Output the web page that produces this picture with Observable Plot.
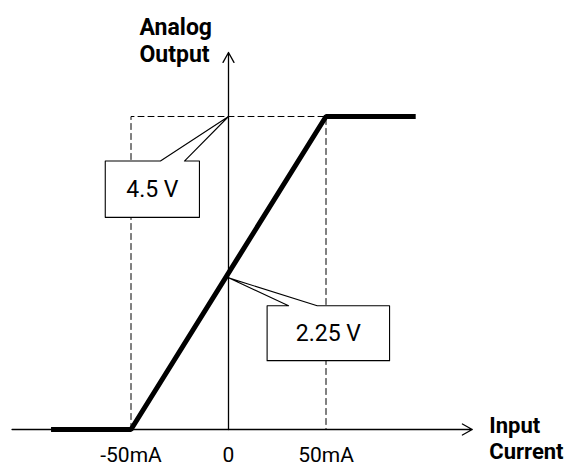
<!DOCTYPE html>
<html>
<head>
<meta charset="utf-8">
<script src="https://cdn.jsdelivr.net/npm/d3@7"></script>
<script src="https://cdn.jsdelivr.net/npm/@observablehq/plot@0.6"></script>
<style>
  html, body { margin: 0; padding: 0; background: #fff; }
  #chart { width: 565px; height: 468px; }
</style>
</head>
<body>
<div id="chart"></div>
<script>
// ---- data (input current in mA, analog output in V) ----
const currentKnots = [-91, -50, 50, 96];        // transfer curve x
const outputKnots  = [0, 0, 4.5, 4.5];          // transfer curve y
const tickValues   = [-50, 0, 50];
const tickLabels   = ["-50mA", "0", "50mA"];
const xAxisExtent  = [-111, 125];               // x-axis arrow from/to (mA)
const yAxisExtent  = [0, 5.42];                 // y-axis arrow from/to (V)
const guideX       = [-50, -50, 50, 50];        // dashed guide
const guideY       = [0, 4.5, 4.5, 0];
const calloutLabels = ["4.5 V", "2.25 V"];
const calloutTips   = [[0, 4.5], [0, 2.18]];
const calloutBoxX   = [[-63.2, -14.9], [19.8, 82.6]];
const calloutBoxY   = [[3.05, 3.86], [0.99, 1.78]];
const calloutBaseX  = [[-34.9, -22.6], [30.8, 45.5]];
const xTitle = "Input\nCurrent";
const yTitle = "Analog\nOutput";

// ---- derived tables ----
const curve = currentKnots.map((x, i) => ({x, y: outputKnots[i]}));
const guide = guideX.map((x, i) => ({x, y: guideY[i]}));
const ticks = tickValues.map((x, i) => ({x, label: tickLabels[i]}));
const callouts = [];
calloutLabels.forEach((label, i) => {
  const [x0, x1] = calloutBoxX[i], [y0, y1] = calloutBoxY[i];
  const [b0, b1] = calloutBaseX[i], [tx, ty] = calloutTips[i];
  [[x0, y1], [b0, y1], [tx, ty], [b1, y1], [x1, y1], [x1, y0], [x0, y0], [x0, y1]]
    .forEach(([x, y]) => callouts.push({id: label, x, y}));
});
const calloutText = calloutLabels.map((label, i) => ({
  label,
  x: (calloutBoxX[i][0] + calloutBoxX[i][1]) / 2,
  y: (calloutBoxY[i][0] + calloutBoxY[i][1]) / 2
}));
const axes = [
  {x1: xAxisExtent[0], y1: 0, x2: xAxisExtent[1], y2: 0},
  {x1: 0, y1: yAxisExtent[0], x2: 0, y2: yAxisExtent[1]}
];

const chart = Plot.plot({
  width: 565,
  height: 468,
  margin: 0,
  style: {fontFamily: "Roboto, sans-serif", background: "#fff", color: "#000"},
  x: {domain: [-50, 50], range: [130.5, 325.5], axis: null},
  y: {domain: [0, 4.5], range: [429, 116], axis: null},
  marks: [
    Plot.line(guide, {x: "x", y: "y", stroke: "#000", strokeWidth: 1, strokeDasharray: "6,4"}),
    Plot.line(callouts, {x: "x", y: "y", z: "id", fill: "#fff", stroke: "#000", strokeWidth: 1.1, curve: "linear-closed"}),
    Plot.arrow(axes, {x1: "x1", y1: "y1", x2: "x2", y2: "y2", stroke: "#000", strokeWidth: 1.3, headLength: 13, headAngle: 58, bend: 0}),
    Plot.line(curve, {x: "x", y: "y", stroke: "#000", strokeWidth: 5, strokeLinejoin: "miter", strokeLinecap: "butt"}),
    Plot.text(ticks, {x: "x", y: 0, text: "label", dy: 26, fontSize: 21, fill: "#000"}),
    Plot.text(calloutText, {x: "x", y: "y", text: "label", fontSize: 23, fill: "#000"}),
    Plot.text([xTitle], {x: xAxisExtent[1], y: 0, text: d => d, dx: 17, dy: 8, textAnchor: "start", fontSize: 22, fontWeight: "bold", lineHeight: 1.2, fill: "#000"}),
    Plot.text([yTitle], {x: 0, y: yAxisExtent[1], text: d => d, dx: -89, dy: -13, textAnchor: "start", fontSize: 23, fontWeight: "bold", lineHeight: 1.2, fill: "#000"})
  ]
});
document.getElementById("chart").appendChild(chart);
</script>
</body>
</html>
